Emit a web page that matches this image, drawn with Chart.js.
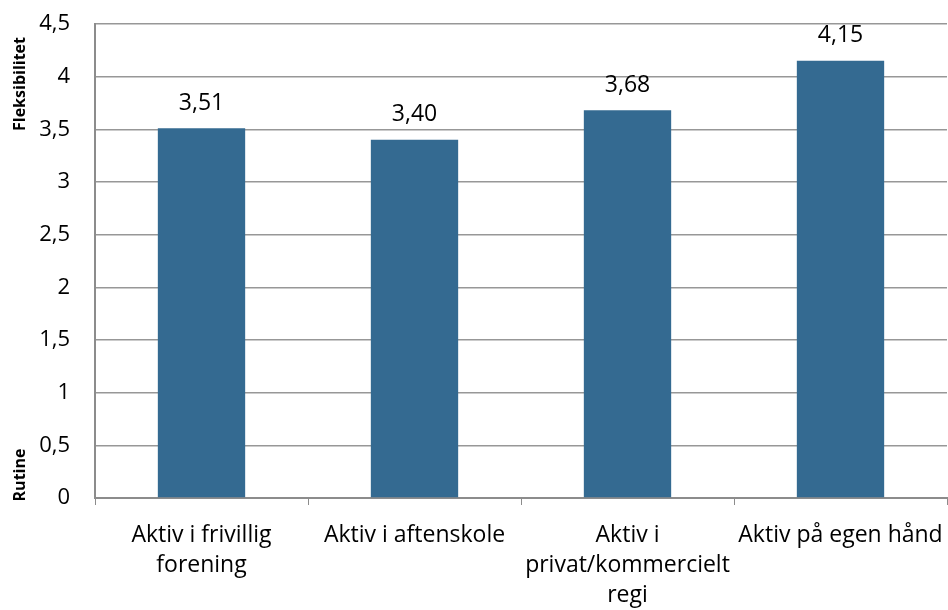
<!DOCTYPE html>
<html>
<head>
<meta charset="utf-8">
<script src="https://cdn.jsdelivr.net/npm/chart.js@4"></script>
<style>
  html, body { margin: 0; padding: 0; background: #fff; }
  #wrap { width: 948px; height: 610px; }
</style>
</head>
<body>
<div id="wrap"><canvas id="c" width="948" height="610"></canvas></div>
<script>
const categories = [
    ["Aktiv i frivillig", "forening"],
    "Aktiv i aftenskole",
    ["Aktiv i", "privat/kommercielt", "regi"],
    "Aktiv på egen hånd",
];
const values = [3.51, 3.40, 3.68, 4.15];
const yTicks = [0, 0.5, 1, 1.5, 2, 2.5, 3, 3.5, 4, 4.5];

const FONT = "'Open Sans', sans-serif";
const fmt = (v, d) => v.toFixed(d).replace(".", ",");

// value labels above the bars + the two rotated side titles
const labels_plugin = {
    id: "labels_plugin",
    afterDatasetsDraw(chart) {
        const ctx = chart.ctx;
        const meta = chart.getDatasetMeta(0);
        ctx.save();
        ctx.font = "23px " + FONT;
        ctx.fillStyle = "#000";
        ctx.textAlign = "center";
        ctx.textBaseline = "middle";
        meta.data.forEach((bar, i) => {
            ctx.fillText(fmt(values[i], 2), bar.x, bar.y - 25);
        });
        ctx.font = "bold 16px " + FONT;
        const side = [["Fleksibilitet", 84], ["Rutine", 475]];
        side.forEach(([txt, y]) => {
            ctx.save();
            ctx.translate(20, y);
            ctx.rotate(-Math.PI / 2);
            ctx.fillText(txt, 0, 0);
            ctx.restore();
        });
        ctx.restore();
    },
};

const ctx = document.getElementById("c").getContext("2d");
const chart = new Chart(ctx, {
    type: "bar",
    data: {
        labels: categories,
        datasets: [
            {
                data: values,
                backgroundColor: "#346a91",
                categoryPercentage: 1,
                barPercentage: 0.41,
            },
        ],
    },
    options: {
        responsive: false,
        animation: false,
        layout: { padding: { top: 24, right: 1, left: 0, bottom: 0 } },
        plugins: { legend: { display: false }, tooltip: { enabled: false } },
        scales: {
            x: {
                afterFit: (s) => {
                    s.height = 112;
                    s.paddingLeft = 0;
                    s.paddingRight = 0;
                },
                grid: {
                    offset: true,
                    drawOnChartArea: false,
                    drawTicks: true,
                    tickLength: 7,
                    color: "#8c8c8c",
                },
                border: { color: "#8c8c8c", width: 2 },
                ticks: {
                    color: "#000",
                    font: { family: FONT, size: 23, lineHeight: 1.3 },
                    padding: 16,
                    maxRotation: 0,
                    autoSkip: false,
                },
            },
            y: {
                min: 0,
                max: 4.5,
                afterFit: (s) => {
                    s.width = 95;
                    s.paddingTop = 0;
                    s.paddingBottom = 0;
                },
                afterBuildTicks: (s) => { s.ticks = yTicks.map((v) => ({ value: v })); },
                grid: { color: "#979797", lineWidth: 1.5, drawTicks: false },
                border: { color: "#8c8c8c", width: 2 },
                ticks: {
                    color: "#000",
                    font: { family: FONT, size: 22 },
                    padding: 25,
                    callback: (v) => String(v).replace(".", ","),
                },
            },
        },
    },
    plugins: [labels_plugin],
});
</script>
</body>
</html>
